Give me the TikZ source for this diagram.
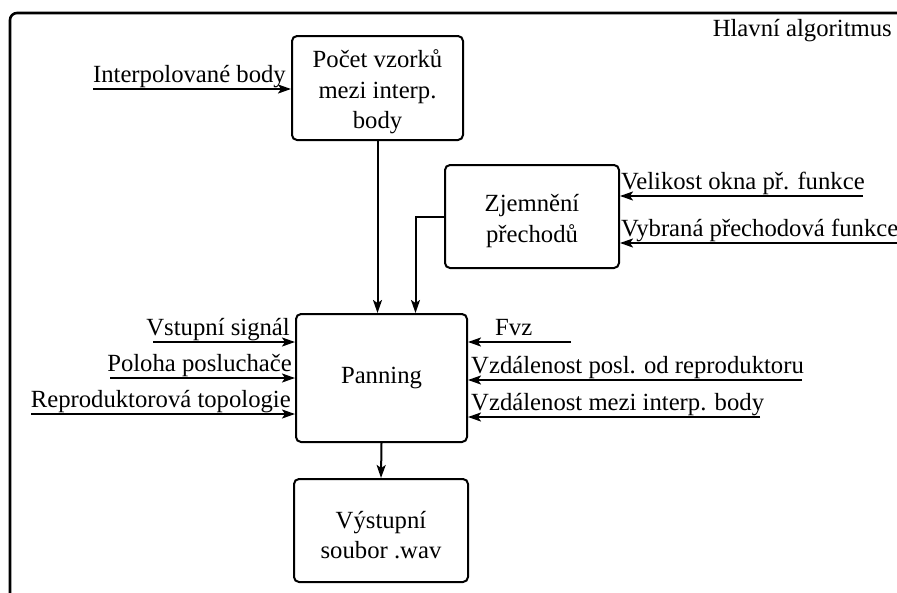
\documentclass[tikz,border=0pt]{standalone}
\usepackage{fontspec}
\setmainfont{Liberation Serif}
\usetikzlibrary{arrows.meta}
\tikzset{
  txt/.style={font=\fontsize{24.7}{30.5}\selectfont},
  box/.style={draw, line width=2pt, rounded corners=5pt, align=center, inner sep=0pt, txt},
  arr/.style={line width=2pt, -{Stealth[length=13pt,width=9pt,inset=3pt]}},
  lbl/.style={inner sep=0pt, txt},
}
\begin{document}
\begin{tikzpicture}[x=1pt,y=-1pt]
\useasboundingbox (0,0) rectangle (897,592);
\clip (0,0) rectangle (897,592);
\fill[white] (0,0) rectangle (897,592);
\draw[line width=2.6pt, rounded corners=7pt] (10,13) rectangle (940,640);
\node[lbl, anchor=base east] (title) at (892,36) {Hlavní algoritmus};

\node[box, minimum width=171pt, minimum height=104pt] (pocet) at (377.5,88) {\rule{0pt}{26pt}Počet vzorků\\mezi interp.\\body};
\node[box, minimum width=174pt, minimum height=103pt] (zjem) at (532,216.5) {\rule{0pt}{26pt}Zjemnění\\přechodů};
\node[box, minimum width=171pt, minimum height=128pt] (pan) at (381.5,378) {Panning};
\node[box, minimum width=174pt, minimum height=103pt] (vys) at (381,530.5) {\rule{0pt}{26pt}Výstupní\\soubor .wav};

% internal connectors
\draw[arr] (pocet.south) -- (pocet.south |- pan.north);
\draw[arr] (zjem.west) -| ([xshift=34pt]pan.north);
\draw[arr] (pan.south) -- (vys.north);

% input to pocet
\coordinate (a1) at (93,89);
\draw[arr] (a1) -- (a1 -| pocet.west);
\node[lbl, anchor=base east] (l1) at (286,82) {Interpolované body};

% inputs to zjem
\coordinate (z1) at (863,196);
\coordinate (z2) at (920,243);
\draw[arr] (z1) -- (z1 -| zjem.east);
\draw[arr] (z2) -- (z2 -| zjem.east);
\node[lbl, anchor=base west] (lz1) at (621,189) {Velikost okna př. funkce};
\node[lbl, anchor=base west] (lz2) at (621,236) {Vybraná přechodová funkce};

% left inputs to panning
\coordinate (p1) at (153,342);
\coordinate (p2) at (110,378);
\coordinate (p3) at (31,414);
\draw[arr] (p1) -- (p1 -| pan.west);
\draw[arr] (p2) -- (p2 -| pan.west);
\draw[arr] (p3) -- (p3 -| pan.west);
\node[lbl, anchor=base east] (lp1) at (290,335) {Vstupní signál};
\node[lbl, anchor=base east] (lp2) at (292,371) {Poloha posluchače};
\node[lbl, anchor=base east] (lp3) at (291,407) {Reproduktorová topologie};

% right inputs to panning
\coordinate (r1) at (571,342);
\coordinate (r2) at (802,380);
\coordinate (r3) at (760,417);
\draw[arr] (r1) -- (r1 -| pan.east);
\draw[arr] (r2) -- (r2 -| pan.east);
\draw[arr] (r3) -- (r3 -| pan.east);
\node[lbl, anchor=base west] (lr1) at (495,335) {Fvz};
\node[lbl, anchor=base west] (lr2) at (471,373) {Vzdálenost posl. od reproduktoru};
\node[lbl, anchor=base west] (lr3) at (471,410) {Vzdálenost mezi interp. body};
\end{tikzpicture}
\end{document}
